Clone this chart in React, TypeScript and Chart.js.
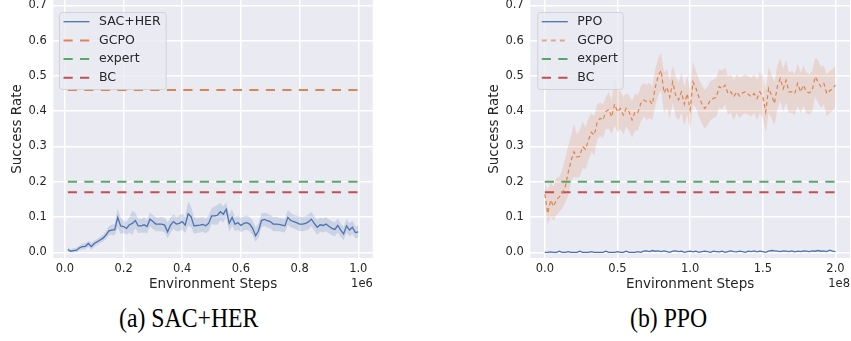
import React, { useEffect, useRef } from "react";
import { Chart, registerables } from "chart.js";

Chart.register(...registerables);

// ---------- DATA ----------
// (a) SAC+HER, x in units of 1e6 environment steps
const sacSteps = [
  0.01, 0.02, 0.03, 0.04, 0.05, 0.06, 0.07, 0.08, 0.09, 0.1,
  0.11, 0.12, 0.13, 0.14, 0.15, 0.16, 0.17, 0.18, 0.19, 0.2,
  0.21, 0.22, 0.23, 0.24, 0.25, 0.26, 0.27, 0.28, 0.29, 0.3,
  0.31, 0.32, 0.33, 0.34, 0.35, 0.36, 0.37, 0.38, 0.39, 0.4,
  0.41, 0.42, 0.43, 0.44, 0.45, 0.46, 0.47, 0.48, 0.49, 0.5,
  0.51, 0.52, 0.53, 0.54, 0.55, 0.56, 0.57, 0.58, 0.59, 0.6,
  0.61, 0.62, 0.63, 0.64, 0.65, 0.66, 0.67, 0.68, 0.69, 0.7,
  0.71, 0.72, 0.73, 0.74, 0.75, 0.76, 0.77, 0.78, 0.79, 0.8,
  0.81, 0.82, 0.83, 0.84, 0.85, 0.86, 0.87, 0.88, 0.89, 0.9,
  0.91, 0.92, 0.93, 0.94, 0.95, 0.96, 0.97, 0.98, 0.99, 1.0,
];
const sacMean = [
  0.008, 0.003, 0.005, 0.006, 0.013, 0.016, 0.017, 0.025, 0.016, 0.025,
  0.030, 0.035, 0.040, 0.049, 0.061, 0.063, 0.064, 0.099, 0.075, 0.073,
  0.068, 0.078, 0.082, 0.090, 0.075, 0.075, 0.078, 0.073, 0.094, 0.087,
  0.080, 0.080, 0.080, 0.077, 0.058, 0.077, 0.087, 0.080, 0.082, 0.087,
  0.077, 0.109, 0.101, 0.075, 0.076, 0.077, 0.079, 0.075, 0.082, 0.103,
  0.103, 0.105, 0.115, 0.108, 0.122, 0.082, 0.099, 0.080, 0.084, 0.076,
  0.082, 0.084, 0.080, 0.068, 0.047, 0.061, 0.090, 0.093, 0.090, 0.087,
  0.080, 0.080, 0.079, 0.077, 0.075, 0.099, 0.090, 0.087, 0.084, 0.080,
  0.080, 0.082, 0.086, 0.094, 0.082, 0.071, 0.078, 0.076, 0.080, 0.074,
  0.068, 0.065, 0.076, 0.063, 0.052, 0.075, 0.063, 0.071, 0.056, 0.058,
];
const sacUpper = [
  0.015, 0.008, 0.012, 0.013, 0.020, 0.024, 0.026, 0.032, 0.027, 0.033,
  0.038, 0.044, 0.050, 0.060, 0.074, 0.078, 0.080, 0.125, 0.098, 0.090,
  0.086, 0.100, 0.118, 0.112, 0.095, 0.094, 0.100, 0.092, 0.112, 0.106,
  0.100, 0.098, 0.100, 0.098, 0.085, 0.098, 0.108, 0.100, 0.104, 0.110,
  0.100, 0.145, 0.130, 0.100, 0.098, 0.098, 0.100, 0.096, 0.104, 0.125,
  0.130, 0.135, 0.140, 0.130, 0.142, 0.108, 0.122, 0.100, 0.104, 0.098,
  0.102, 0.104, 0.100, 0.090, 0.070, 0.082, 0.110, 0.112, 0.110, 0.106,
  0.100, 0.100, 0.098, 0.096, 0.095, 0.120, 0.112, 0.106, 0.104, 0.100,
  0.100, 0.102, 0.108, 0.115, 0.102, 0.092, 0.098, 0.095, 0.100, 0.094,
  0.088, 0.085, 0.096, 0.083, 0.072, 0.095, 0.083, 0.090, 0.074, 0.075,
];
const sacLower = [
  0.001, 0.000, 0.000, 0.000, 0.006, 0.008, 0.009, 0.016, 0.007, 0.016,
  0.021, 0.026, 0.030, 0.038, 0.048, 0.049, 0.048, 0.070, 0.052, 0.055,
  0.050, 0.056, 0.050, 0.068, 0.055, 0.056, 0.056, 0.054, 0.074, 0.066,
  0.060, 0.060, 0.060, 0.056, 0.040, 0.055, 0.066, 0.060, 0.060, 0.064,
  0.055, 0.075, 0.072, 0.052, 0.055, 0.056, 0.058, 0.054, 0.060, 0.080,
  0.078, 0.078, 0.090, 0.085, 0.100, 0.058, 0.075, 0.060, 0.064, 0.056,
  0.062, 0.064, 0.060, 0.048, 0.030, 0.042, 0.070, 0.075, 0.070, 0.068,
  0.060, 0.060, 0.060, 0.058, 0.056, 0.078, 0.070, 0.068, 0.064, 0.060,
  0.060, 0.062, 0.064, 0.074, 0.062, 0.050, 0.058, 0.056, 0.060, 0.054,
  0.048, 0.045, 0.056, 0.043, 0.034, 0.056, 0.045, 0.052, 0.040, 0.042,
];

// (b) PPO / GCPO, x in units of 1e8 environment steps
const ppoSteps = [
  0.0, 0.02, 0.04, 0.06, 0.08, 0.1, 0.12, 0.14, 0.16, 0.18,
  0.2, 0.22, 0.24, 0.26, 0.28, 0.3, 0.32, 0.34, 0.36, 0.38,
  0.4, 0.42, 0.44, 0.46, 0.48, 0.5, 0.52, 0.54, 0.56, 0.58,
  0.6, 0.62, 0.64, 0.66, 0.68, 0.7, 0.72, 0.74, 0.76, 0.78,
  0.8, 0.82, 0.84, 0.86, 0.88, 0.9, 0.92, 0.94, 0.96, 0.98,
  1.0, 1.02, 1.04, 1.06, 1.08, 1.1, 1.12, 1.14, 1.16, 1.18,
  1.2, 1.22, 1.24, 1.26, 1.28, 1.3, 1.32, 1.34, 1.36, 1.38,
  1.4, 1.42, 1.44, 1.46, 1.48, 1.5, 1.52, 1.54, 1.56, 1.58,
  1.6, 1.62, 1.64, 1.66, 1.68, 1.7, 1.72, 1.74, 1.76, 1.78,
  1.8, 1.82, 1.84, 1.86, 1.88, 1.9, 1.92, 1.94, 1.96, 1.98,
  2.0,
];
const ppoMean = [
  0.000, 0.000, 0.001, 0.000, 0.000, 0.003, 0.000, 0.000, 0.002, 0.000,
  0.000, 0.000, 0.003, 0.000, 0.000, 0.000, 0.002, 0.000, 0.000, 0.000,
  0.000, 0.003, 0.000, 0.000, 0.000, 0.002, 0.000, 0.000, 0.003, 0.000,
  0.000, 0.000, 0.002, 0.000, 0.003, 0.004, 0.002, 0.005, 0.003, 0.004,
  0.002, 0.004, 0.002, 0.000, 0.003, 0.004, 0.002, 0.003, 0.000, 0.002,
  0.003, 0.001, 0.003, 0.000, 0.002, 0.003, 0.002, 0.000, 0.003, 0.002,
  0.001, 0.003, 0.000, 0.002, 0.004, 0.002, 0.001, 0.003, 0.002, 0.000,
  0.003, 0.002, 0.004, 0.001, 0.003, 0.002, 0.000, 0.003, 0.005, 0.004,
  0.003, 0.002, 0.004, 0.003, 0.002, 0.004, 0.001, 0.003, 0.002, 0.004,
  0.003, 0.002, 0.004, 0.003, 0.005, 0.003, 0.004, 0.002, 0.006, 0.003,
  0.002,
];
const gcpoMean = [
  0.165, 0.110, 0.148, 0.130, 0.150, 0.157, 0.168, 0.185, 0.225, 0.259,
  0.285, 0.270, 0.272, 0.300, 0.292, 0.318, 0.340, 0.332, 0.368, 0.380,
  0.375, 0.399, 0.405, 0.384, 0.420, 0.398, 0.408, 0.389, 0.408, 0.398,
  0.375, 0.398, 0.396, 0.422, 0.432, 0.427, 0.430, 0.420, 0.468, 0.500,
  0.516, 0.452, 0.468, 0.440, 0.483, 0.445, 0.432, 0.455, 0.420, 0.450,
  0.405, 0.483, 0.465, 0.440, 0.422, 0.408, 0.417, 0.432, 0.436, 0.440,
  0.470, 0.464, 0.474, 0.450, 0.455, 0.441, 0.455, 0.443, 0.452, 0.455,
  0.448, 0.441, 0.450, 0.436, 0.455, 0.441, 0.398, 0.465, 0.445, 0.422,
  0.470, 0.493, 0.464, 0.488, 0.455, 0.455, 0.450, 0.479, 0.455, 0.474,
  0.455, 0.452, 0.460, 0.498, 0.483, 0.470, 0.479, 0.450, 0.458, 0.464,
  0.474,
];
const gcpoUpper = [
  0.200, 0.175, 0.200, 0.185, 0.210, 0.215, 0.235, 0.265, 0.300, 0.330,
  0.365, 0.335, 0.345, 0.370, 0.355, 0.380, 0.395, 0.385, 0.420, 0.425,
  0.420, 0.440, 0.455, 0.430, 0.500, 0.460, 0.455, 0.440, 0.450, 0.445,
  0.430, 0.450, 0.445, 0.470, 0.480, 0.475, 0.480, 0.470, 0.520, 0.550,
  0.565, 0.510, 0.520, 0.490, 0.530, 0.500, 0.480, 0.510, 0.470, 0.500,
  0.460, 0.540, 0.515, 0.490, 0.475, 0.460, 0.470, 0.485, 0.490, 0.495,
  0.520, 0.515, 0.525, 0.500, 0.505, 0.490, 0.505, 0.495, 0.500, 0.505,
  0.500, 0.495, 0.505, 0.490, 0.510, 0.500, 0.460, 0.525, 0.505, 0.480,
  0.530, 0.550, 0.520, 0.545, 0.510, 0.515, 0.505, 0.535, 0.510, 0.530,
  0.510, 0.505, 0.515, 0.550, 0.545, 0.525, 0.530, 0.505, 0.515, 0.520,
  0.530,
];
const gcpoLower = [
  0.130, 0.080, 0.100, 0.090, 0.105, 0.115, 0.125, 0.140, 0.160, 0.200,
  0.215, 0.210, 0.215, 0.240, 0.235, 0.260, 0.285, 0.275, 0.320, 0.330,
  0.325, 0.350, 0.350, 0.335, 0.360, 0.340, 0.350, 0.335, 0.355, 0.345,
  0.325, 0.345, 0.345, 0.370, 0.385, 0.375, 0.380, 0.375, 0.415, 0.445,
  0.460, 0.395, 0.410, 0.380, 0.425, 0.385, 0.375, 0.395, 0.360, 0.390,
  0.345, 0.420, 0.410, 0.385, 0.365, 0.350, 0.360, 0.375, 0.380, 0.385,
  0.410, 0.405, 0.420, 0.390, 0.395, 0.375, 0.395, 0.380, 0.390, 0.395,
  0.390, 0.385, 0.395, 0.375, 0.395, 0.380, 0.340, 0.395, 0.380, 0.360,
  0.405, 0.430, 0.400, 0.425, 0.395, 0.395, 0.390, 0.415, 0.395, 0.415,
  0.395, 0.390, 0.400, 0.440, 0.425, 0.410, 0.420, 0.385, 0.395, 0.400,
  0.415,
];

// Reference levels
const gcpoLevelA = 0.46;
const expertLevel = 0.2;
const bcLevel = 0.17;
const refSpanA = [0.01, 1.0];
const refSpanB = [0.0, 2.0];

// Axes
const yTicks = [0, 0.1, 0.2, 0.3, 0.4, 0.5, 0.6, 0.7];
const xTicksA = [0, 0.2, 0.4, 0.6, 0.8, 1.0];
const xTicksB = [0, 0.5, 1.0, 1.5, 2.0];
const yRange = [-0.0162, 0.7154];
const xRangeA = [-0.0395, 1.0495];
const xRangeB = [-0.1, 2.1];

// ---------- STYLE ----------
const FONT = "'DejaVu Sans', sans-serif";
const TXT = "#262626";
const BLUE = "#4c72b0";
const ORANGE = "#dd8452";
const GREEN = "#55a868";
const RED = "#c44e52";
const BG = "#eaeaf2";
const REF_DASH = [9.2, 7.3];
const TICK_SIZE = 11.5;

const xy = (xs: number[], ys: number[]) => ys.map((y, i) => ({ x: xs[i], y }));
const flat = (span: number[], level: number) => span.map((x) => ({ x, y: level }));

const decorPlugin = {
  id: "decor",
  beforeDraw(chart: any) {
    const { ctx, chartArea: a } = chart;
    ctx.save();
    ctx.fillStyle = BG;
    ctx.fillRect(a.left, a.top, a.right - a.left, a.bottom - a.top);
    ctx.restore();
  },
  afterDraw(chart: any, _args: any, opts: any) {
    const { ctx, chartArea: a } = chart;
    ctx.save();
    // offset text
    ctx.font = `${TICK_SIZE}px ${FONT}`;
    ctx.fillStyle = TXT;
    ctx.textAlign = "right";
    ctx.textBaseline = "middle";
    ctx.fillText(opts.offsetText, a.right, 284.5);
    // legend
    ctx.font = `12.5px ${FONT}`;
    const entries = opts.entries as any[];
    let maxW = 0;
    entries.forEach((e) => (maxW = Math.max(maxW, ctx.measureText(e.label).width)));
    const bx = a.left + opts.dx;
    const by = a.top + 12;
    const bw = 40 + maxW + 5;
    const bh = 77;
    ctx.beginPath();
    ctx.roundRect(bx + 0.5, by + 0.5, bw, bh, 3);
    ctx.fillStyle = "rgba(234,234,242,0.8)";
    ctx.fill();
    ctx.strokeStyle = "rgba(204,204,204,0.8)";
    ctx.lineWidth = 1;
    ctx.stroke();
    entries.forEach((e, i) => {
      const cy = by + 9.7 + i * 18.7;
      ctx.beginPath();
      ctx.setLineDash(e.dash || []);
      ctx.lineCap = "butt";
      ctx.strokeStyle = e.color;
      ctx.lineWidth = e.width;
      ctx.moveTo(bx + 4.5, cy);
      ctx.lineTo(bx + 30.5, cy);
      ctx.stroke();
      ctx.setLineDash([]);
      ctx.fillStyle = TXT;
      ctx.textAlign = "left";
      ctx.textBaseline = "middle";
      ctx.fillText(e.label, bx + 40, cy);
    });
    ctx.restore();
  },
};

function makeOptions(xRange: number[], xTicks: number[], decor: any) {
  return {
    responsive: false,
    animation: false as const,
    layout: { padding: { left: 0, right: decor.padRight, top: 0, bottom: 0 } },
    elements: { point: { radius: 0 }, line: { tension: 0 } },
    plugins: {
      legend: { display: false },
      tooltip: { enabled: false },
      decor,
    },
    scales: {
      x: {
        type: "linear" as const,
        min: xRange[0],
        max: xRange[1],
        afterBuildTicks: (s: any) => {
          s.ticks = xTicks.map((v) => ({ value: v }));
        },
        afterFit: (s: any) => {
          s.height = 42;
          s.paddingLeft = 0;
          s.paddingRight = 0;
          s.paddingTop = 0;
          s.paddingBottom = 0;
        },
        grid: { color: "#ffffff", lineWidth: 1.5, drawTicks: false },
        border: { display: false },
        ticks: {
          padding: 4,
          autoSkip: false,
          maxRotation: 0,
          color: TXT,
          font: { family: FONT, size: TICK_SIZE },
          callback: (v: any) => Number(v).toFixed(1),
        },
        title: {
          display: true,
          text: "Environment Steps",
          color: TXT,
          font: { family: FONT, size: 13.5, lineHeight: 1 },
          padding: { top: 0, bottom: 8.5 },
        },
      },
      y: {
        type: "linear" as const,
        min: yRange[0],
        max: yRange[1],
        afterBuildTicks: (s: any) => {
          s.ticks = yTicks.map((v) => ({ value: v }));
        },
        afterFit: (s: any) => {
          s.width = 53.3;
          s.paddingLeft = 0;
          s.paddingRight = 0;
          s.paddingTop = 0;
          s.paddingBottom = 0;
        },
        grid: { color: "#ffffff", lineWidth: 1.5, drawTicks: false },
        border: { display: false },
        ticks: {
          padding: 6.6,
          color: TXT,
          font: { family: FONT, size: TICK_SIZE },
          callback: (v: any) => Number(v).toFixed(1),
        },
        title: {
          display: true,
          text: "Success Rate",
          color: TXT,
          font: { family: FONT, size: 13.5, lineHeight: 1 },
          padding: { top: 10.25, bottom: 0 },
        },
      },
    },
  };
}

function ChartCanvas({ config, style }: { config: () => any; style: React.CSSProperties }) {
  const ref = useRef<HTMLCanvasElement | null>(null);
  useEffect(() => {
    if (!ref.current) return;
    const chart = new Chart(ref.current, config());
    return () => chart.destroy();
  }, []);
  return (
    <canvas
      ref={ref}
      width={style.width as number}
      height={style.height as number}
      style={{ position: "absolute", display: "block", ...style }}
    />
  );
}

const configA = () => ({
  type: "line",
  data: {
    datasets: [
      { label: "SAC+HER", data: xy(sacSteps, sacMean), borderColor: BLUE, borderWidth: 1.3, fill: false },
      { label: "GCPO", data: flat(refSpanA, gcpoLevelA), borderColor: ORANGE, borderWidth: 2, borderDash: REF_DASH, fill: false },
      { label: "expert", data: flat(refSpanA, expertLevel), borderColor: GREEN, borderWidth: 2, borderDash: REF_DASH, fill: false },
      { label: "BC", data: flat(refSpanA, bcLevel), borderColor: RED, borderWidth: 2, borderDash: REF_DASH, fill: false },
      { label: "upper", data: xy(sacSteps, sacUpper), borderWidth: 0, borderColor: "rgba(0,0,0,0)", backgroundColor: "rgba(76,114,176,0.2)", fill: "+1" },
      { label: "lower", data: xy(sacSteps, sacLower), borderWidth: 0, borderColor: "rgba(0,0,0,0)", fill: false },
    ],
  },
  options: makeOptions(xRangeA, xTicksA, {
    padRight: 7.2,
    dx: 5.7,
    offsetText: "1e6",
    entries: [
      { label: "SAC+HER", color: BLUE, width: 1.3 },
      { label: "GCPO", color: ORANGE, width: 2, dash: REF_DASH },
      { label: "expert", color: GREEN, width: 2, dash: REF_DASH },
      { label: "BC", color: RED, width: 2, dash: REF_DASH },
    ],
  }),
  plugins: [decorPlugin],
});

const configB = () => ({
  type: "line",
  data: {
    datasets: [
      { label: "PPO", data: xy(ppoSteps, ppoMean), borderColor: BLUE, borderWidth: 1.3, fill: false },
      { label: "GCPO", data: xy(ppoSteps, gcpoMean), borderColor: ORANGE, borderWidth: 1.2, borderDash: [4, 3], fill: false },
      { label: "expert", data: flat(refSpanB, expertLevel), borderColor: GREEN, borderWidth: 2, borderDash: REF_DASH, fill: false },
      { label: "BC", data: flat(refSpanB, bcLevel), borderColor: RED, borderWidth: 2, borderDash: REF_DASH, fill: false },
      { label: "upper", data: xy(ppoSteps, gcpoUpper), borderWidth: 0, borderColor: "rgba(0,0,0,0)", backgroundColor: "rgba(221,132,82,0.2)", fill: "+1" },
      { label: "lower", data: xy(ppoSteps, gcpoLower), borderWidth: 0, borderColor: "rgba(0,0,0,0)", fill: false },
    ],
  },
  options: makeOptions(xRangeB, xTicksB, {
    padRight: 1,
    dx: 7,
    offsetText: "1e8",
    entries: [
      { label: "PPO", color: BLUE, width: 1.3 },
      { label: "GCPO", color: "rgba(221,132,82,0.65)", width: 2, dash: [5, 4] },
      { label: "expert", color: GREEN, width: 2, dash: REF_DASH },
      { label: "BC", color: RED, width: 2, dash: REF_DASH },
    ],
  }),
  plugins: [decorPlugin],
});

const captionStyle: React.CSSProperties = {
  position: "absolute",
  top: 303,
  fontFamily: "'Liberation Serif', 'Times New Roman', serif",
  fontSize: 27,
  lineHeight: "30px",
  color: "#000",
  whiteSpace: "nowrap",
  transform: "scaleX(0.88)",
  transformOrigin: "left center",
};

export default function App() {
  return (
    <div style={{ position: "absolute", left: 0, top: 0, width: 851, height: 341, background: "#fff", overflow: "hidden" }}>
      <ChartCanvas config={configA} style={{ left: 0, top: 0, width: 380, height: 300 }} />
      <ChartCanvas config={configB} style={{ left: 477, top: 0, width: 374, height: 300 }} />
      <div style={{ ...captionStyle, left: 119 }}>(a) SAC+HER</div>
      <div style={{ ...captionStyle, left: 630 }}>(b) PPO</div>
    </div>
  );
}
